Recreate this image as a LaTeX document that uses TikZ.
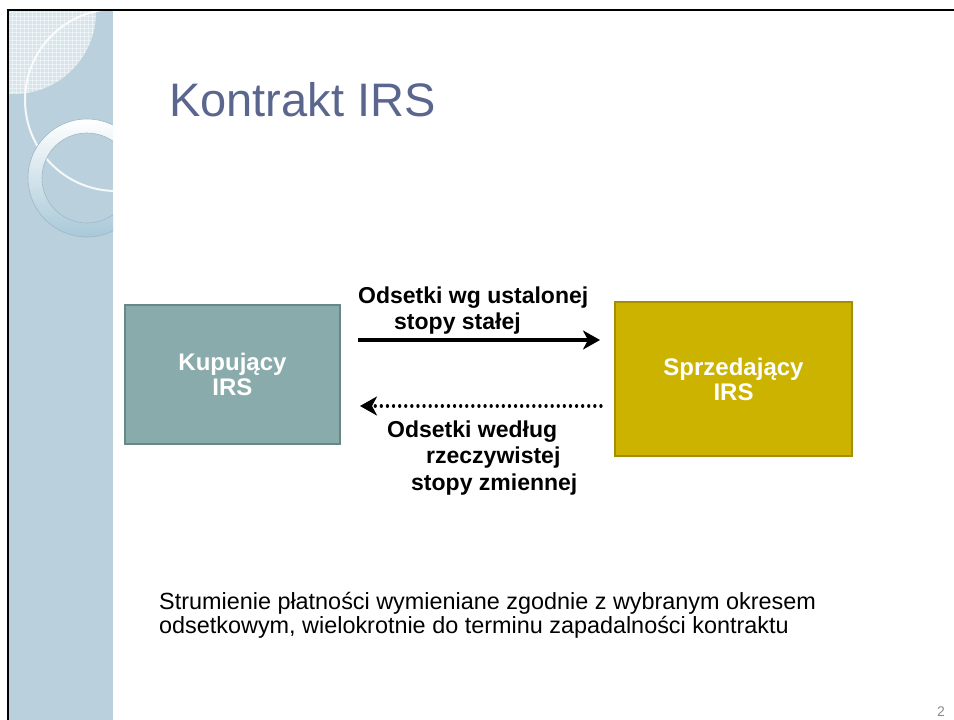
\documentclass[tikz,border=0pt]{standalone}
\usepackage{fontspec}
\setmainfont{Liberation Sans}
\usetikzlibrary{arrows.meta}

\definecolor{panelblue}{RGB}{186,209,221}
\definecolor{panelgrid}{RGB}{214,228,235}
\definecolor{ringedge}{RGB}{160,184,196}
\definecolor{ringlow}{RGB}{168,200,216}
\definecolor{titleblue}{RGB}{90,102,142}
\definecolor{buyerfill}{RGB}{138,171,171}
\definecolor{buyeredge}{RGB}{104,135,135}
\definecolor{sellerfill}{RGB}{204,179,0}
\definecolor{selleredge}{RGB}{165,143,0}
\definecolor{pagegray}{RGB}{140,140,140}

\tikzset{
  partybox/.style={draw, line width=2pt, rectangle, text=white, align=center,
    font=\fontsize{24}{25}\selectfont\bfseries, inner sep=0pt},
  flowlabel/.style={anchor=base west, inner sep=0pt,
    font=\fontsize{23}{26}\selectfont\bfseries},
  payarrow/.style={line width=3.2pt, -{Stealth[length=17pt,width=19pt,inset=5pt]}},
  floatarrow/.style={payarrow, line cap=round, dash pattern=on 0.1pt off 6pt},
  bodytext/.style={anchor=base west, inner sep=0pt, align=left,
    font=\fontsize{23.4}{23.5}\selectfont}
}

\begin{document}
\begin{tikzpicture}[x=1pt,y=-1pt]
\useasboundingbox (0,0) rectangle (954,720);
\fill[white] (0,0) rectangle (954,720);

% decorative side panel
\begin{scope}
  \clip (9,11) rectangle (113,720);
  \fill[panelblue] (9,11) rectangle (113,720);
  % light checked patch in the top corner
  \begin{scope}
    \clip (14,12) circle (82);
    \fill[panelgrid] (9,11) rectangle (113,120);
    \foreach \g in {12,16,...,110} {
      \draw[white, opacity=0.45, line width=0.6pt] (\g,11) -- (\g,120);
      \draw[white, opacity=0.45, line width=0.6pt] (9,\g) -- (113,\g);
    }
  \end{scope}
  % thin white arc
  \draw[white, opacity=0.85, line width=2pt] (116,100) circle (91);
  % shaded ring
  \shade[top color=white, bottom color=ringlow, even odd rule]
    (87,178) circle (59) (87,178) circle (45);
  \draw[ringedge, line width=0.6pt] (87,178) circle (59);
  \draw[ringedge, line width=0.6pt] (87,178) circle (45);
\end{scope}

% frame
\draw[black, line width=2.2pt] (8,720) -- (8,10) -- (954,10);

% title
\node[anchor=base west, inner sep=0pt, text=titleblue,
  font=\fontsize{47}{56}\selectfont] (title) at (169,116) {Kontrakt IRS};

% parties
\node[partybox, fill=buyerfill, draw=buyeredge,
  minimum width=215pt, minimum height=139pt] (kup) at (232.5,374.5)
  {Kupujący\\IRS};
\node[partybox, fill=sellerfill, draw=selleredge,
  minimum width=237pt, minimum height=154pt] (spr) at (733.5,379)
  {Sprzedający\\IRS};

% payment flows
\coordinate (fixA) at (358,340);
\coordinate (fixB) at (600,340);
\coordinate (fltA) at (601,406);
\coordinate (fltB) at (360,406);
\draw[payarrow] (fixA) -- (fixB);
\draw[floatarrow] (fltA) -- (fltB);

\node[flowlabel] (fix1) at (358,303) {Odsetki wg ustalonej};
\node[flowlabel] (fix2) at (394,329) {stopy stałej};
\node[flowlabel] (flt1) at (387,437) {Odsetki według};
\node[flowlabel] (flt2) at (426,463) {rzeczywistej};
\node[flowlabel] (flt3) at (411,490) {stopy zmiennej};

% note
\node[bodytext] (note) at (159,633)
  {Strumienie płatności wymieniane zgodnie z wybranym okresem\\
   odsetkowym, wielokrotnie do terminu zapadalności kontraktu};

% slide number
\node[anchor=base east, inner sep=0pt, text=pagegray,
  font=\fontsize{14}{16}\selectfont] (pg) at (945,716) {2};
\end{tikzpicture}
\end{document}
